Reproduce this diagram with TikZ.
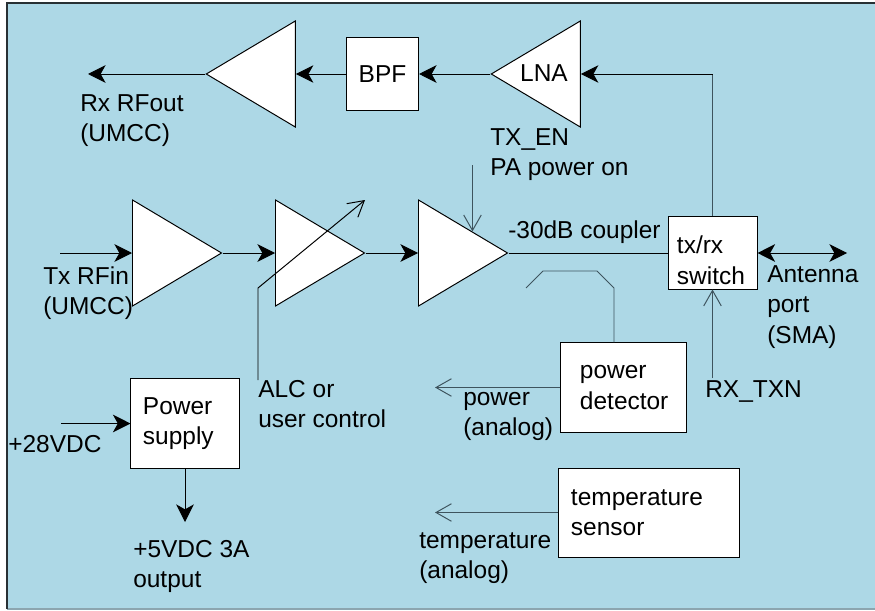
\documentclass[tikz,border=0pt]{standalone}
\usepackage{fontspec}
\setmainfont{Liberation Sans}
\usetikzlibrary{shapes.geometric, arrows.meta, calc}
\definecolor{panelblue}{RGB}{173,216,230}
\definecolor{wiregray}{RGB}{62,84,94}
\definecolor{framegray}{RGB}{40,48,52}
\definecolor{edgegray}{RGB}{140,165,175}

\begin{document}
\begin{tikzpicture}[
    x=0.025cm, y=-0.025cm,
    every node/.style={font=\fontsize{17.4}{21.7}\selectfont, inner sep=0pt},
    lbl/.style={anchor=north west, align=left},
    amp/.style={draw, fill=white, line width=0.7pt, isosceles triangle, isosceles triangle stretches, minimum width=2.65cm, minimum height=2.225cm},
    blk/.style={draw, fill=white, line width=0.7pt, align=left, minimum height=2.225cm},
    fwd/.style={line width=0.7pt, -{Stealth[length=12.5pt, width=12.5pt, inset=3.5pt]}},
    bothway/.style={line width=0.7pt, {Stealth[length=12.5pt, width=12.5pt, inset=3.5pt]}-{Stealth[length=12.5pt, width=12.5pt, inset=3.5pt]}},
    sense/.style={line width=0.7pt, wiregray, -{Straight Barb[length=11pt, width=12.5pt]}}
]
    \useasboundingbox (0,0) rectangle (875,611);

    % Panel
    \fill[panelblue] (7,3) rectangle (875,609);
    \draw[edgegray, line width=0.8pt] (7,609) -- (875,609);
    \draw[framegray, line width=1pt] (7,609) -- (7,3) -- (875,3);

    % Receive chain
    \node[amp, shape border rotate=180, anchor=apex] (rxamp) at (205,74) {};
    \node[draw, fill=white, line width=0.7pt, minimum width=1.8cm, minimum height=1.8cm] (bpf) at (382.5,74) {BPF};
    \node[amp, shape border rotate=180, anchor=apex] (lna) at (490,74) {};
    \node (lnatxt) at (544,73) {LNA};

    % Transmit chain
    \node[amp, anchor=lower side] (drv) at (132,253) {};
    \node[amp, anchor=lower side] (vga) at (275,253) {};
    \node[amp, anchor=lower side] (pa) at (418,253) {};
    \node[blk, minimum width=2.225cm, text width=1.775cm, inner xsep=0.225cm, minimum height=1.8cm] (sw) at (712.5,253) {\rule{0pt}{0.8cm}tx/rx\\switch};

    % Monitor and supply blocks
    \node[blk, minimum width=3.125cm, text width=2.175cm, inner xsep=0.475cm] (pdet) at (623.5,387.5) {power\\detector};
    \node[blk, minimum width=2.7cm, text width=2.1cm, inner xsep=0.3cm] (psu) at (185,423.5) {Power\\supply};
    \node[blk, minimum width=4.5cm, text width=3.9cm, inner xsep=0.3cm] (tsens) at (649,512.5) {temperature\\sensor};

    % Labels
    \node[lbl] (rxlbl) at (80,94) {Rx RFout\\(UMCC)};
    \node[lbl] (txenlbl) at (490,128) {TX\_EN\\PA power on};
    \node[lbl] (cpllbl) at (508,220) {-30dB coupler};
    \node[lbl] (txinlbl) at (43,266) {Tx RFin\\(UMCC)};
    \node[lbl] (antlbl) at (767,265) {Antenna\\port\\(SMA)};
    \node[lbl] (alclbl) at (258,380) {ALC or\\user control};
    \node[lbl] (rxtxnlbl) at (705,380) {RX\_TXN};
    \node[lbl] (pwrlbl) at (463,392) {power\\(analog)};
    \node[lbl] (vinlbl) at (8,435) {+28VDC};
    \node[lbl] (voutlbl) at (133,540) {+5VDC 3A\\output};
    \node[lbl] (tslbl) at (419,532) {temperature\\(analog)};

    % Free ends
    \coordinate (rxout) at (88,74);
    \coordinate (txin) at (60,253);
    \coordinate (ant) at (847,253);
    \coordinate (swup) at (sw.north |- lna.lower side);
    \coordinate (patop) at ($(pa.left corner)!0.6!(pa.apex)$);
    \coordinate (txen) at (patop |- 0,165);
    \coordinate (rxtxn) at (sw.south |- 0,378);
    \coordinate (vgaknee) at (258,288);
    \coordinate (vgatip) at (365,200);
    \coordinate (cpl1) at (526,288);
    \coordinate (cpl2) at (543,271);
    \coordinate (cpl3) at (597,271);
    \coordinate (cpl4) at (614,288);
    \coordinate (pwrout) at (435,387.5);
    \coordinate (tsout) at (435,512.5);
    \coordinate (vin) at (61,423.5);
    \coordinate (vout) at (185,522);

    % Receive path
    \draw[wiregray, line width=0.7pt] (sw.north) -- (swup);
    \draw[fwd] (swup) -- (lna.lower side);
    \draw[fwd] (lna.apex) -- (bpf.east);
    \draw[fwd] (bpf.west) -- (rxamp.lower side);
    \draw[fwd] (rxamp.apex) -- (rxout);

    % Transmit path
    \draw[fwd] (txin) -- (drv.lower side);
    \draw[fwd] (drv.apex) -- (vga.lower side);
    \draw[fwd] (vga.apex) -- (pa.lower side);
    \draw[line width=0.7pt] (pa.apex) -- (sw.west);
    \draw[bothway] (sw.east) -- (ant);

    % Controls
    \draw[sense] (txen) -- (patop);
    \draw[sense] (rxtxn) -- (sw.south);
    \draw[sense, black] (alclbl.north west) -- (vgaknee) -- (vgatip);

    % Coupler and detectors
    \draw[wiregray, line width=0.7pt] (cpl1) -- (cpl2) -- (cpl3) -- (cpl4) -- (cpl4 |- pdet.north);
    \draw[sense] (pdet.west) -- (pwrout);
    \draw[sense] (tsens.west) -- (tsout);

    % Supply
    \draw[fwd] (vin) -- (psu.west);
    \draw[fwd] (psu.south) -- (vout);
\end{tikzpicture}
\end{document}
